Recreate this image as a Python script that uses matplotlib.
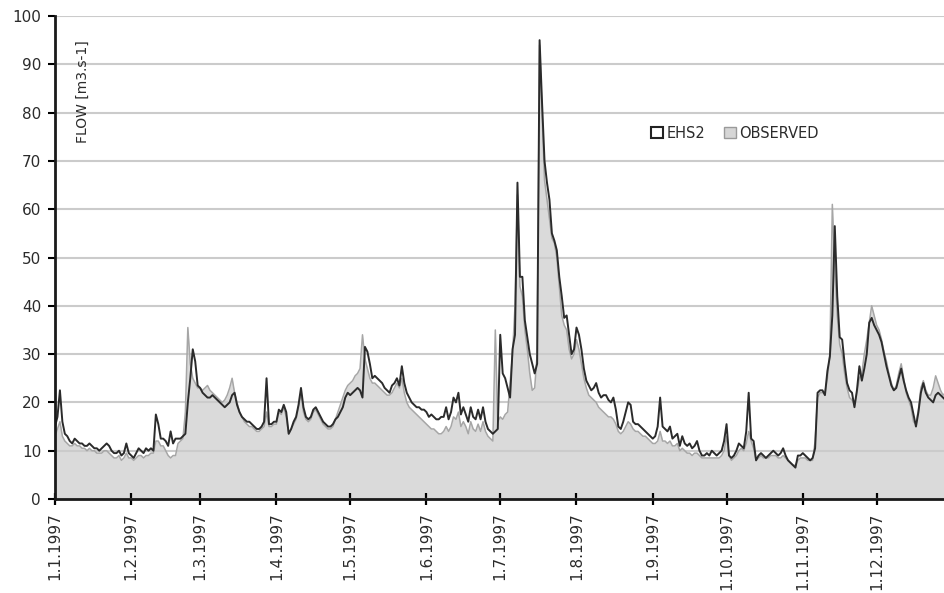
import numpy as np
import matplotlib
matplotlib.use("Agg")
import matplotlib.pyplot as plt
from matplotlib.patches import Patch

# Daily flow [m3.s-1] for 1997, modelled (EHS2) and observed, one list per month
EHS2_JAN = [15, 17, 22.5, 16, 13.5, 13, 12, 11.5, 12.5, 12, 11.5, 11.5, 11, 11, 11.5, 11,
            10.5, 10.5, 10, 10.5, 11, 11.5, 11, 10, 9.5, 9.5, 10, 9, 9.5, 11.5, 9.5]
EHS2_FEB = [9, 8.5, 9.5, 10.5, 10, 9.5, 10.5, 10, 10.5, 10, 17.5, 15.5, 12.5, 12.5, 12, 11,
            14, 11.5, 12.5, 12.5, 12.5, 13, 13.5, 20, 25, 31, 28.5, 23.5]
EHS2_MAR = [23, 22, 21.5, 21, 21, 21.5, 21, 20.5, 20, 19.5, 19, 19.5, 20, 21.5, 22, 19.5,
            18, 17, 16.5, 16, 16, 15.5, 15, 14.5, 14.5, 15, 16, 25, 15.5, 15.5, 16]
EHS2_APR = [16, 18.5, 18, 19.5, 18, 13.5, 14.5, 16, 17, 19.5, 23, 19, 17, 16.5, 17, 18.5,
            19, 18, 17, 16, 15.5, 15, 15, 15.5, 16.5, 17, 18, 19, 21, 22]
EHS2_MAY = [21.5, 22, 22.5, 23, 22.5, 21, 31.5, 30.5, 28, 25, 25.5, 25, 24.5, 24, 23, 22.5,
            22, 23.5, 24, 25, 23.5, 27.5, 24, 22, 21, 20, 19.5, 19, 19, 18.5, 18.5]
EHS2_JUN = [18, 17, 17.5, 17, 16.5, 16.5, 17, 17, 19, 16.5, 18, 21, 20, 22, 17.5, 19,
            17.5, 16, 19, 17, 16.5, 18.5, 16.5, 19, 16, 14.5, 14, 13.5, 14, 14.5]
EHS2_JUL = [34, 26, 25, 23, 21, 31, 34, 65.5, 46, 46, 37, 33.5, 30, 28, 26, 28,
            95, 82, 70, 65.5, 62, 55, 53.5, 51.5, 46, 42, 37.5, 38, 34, 30, 31]
EHS2_AUG = [35.5, 34, 31, 27, 24.5, 23.5, 22.5, 23, 24, 22, 21, 21.5, 21.5, 20.5, 20, 21,
            18.5, 15, 14.5, 16, 18, 20, 19.5, 16, 15.5, 15.5, 15, 14.5, 14, 13.5, 13]
EHS2_SEP = [12.5, 13, 15, 21, 15, 14.5, 14, 15, 12.5, 13, 13.5, 11, 13, 11.5, 11, 11.5,
            10.5, 11, 12, 10, 9, 9, 9.5, 9, 10, 9.5, 9, 9.5, 10, 12]
EHS2_OCT = [15.5, 9, 8.5, 9, 10, 11.5, 11, 10.5, 14, 22, 12.5, 12, 8, 9, 9.5, 9,
            8.5, 9, 9.5, 10, 9.5, 9, 9.5, 10.5, 9, 8, 7.5, 7, 6.5, 9, 9]
EHS2_NOV = [9.5, 9, 8.5, 8, 8.5, 10.5, 22, 22.5, 22.5, 21.5, 26.5, 29.5, 38, 56.5, 42, 33.5,
            33, 28, 24, 22.5, 22, 19, 22.5, 27.5, 24.5, 27, 30, 36.5, 37.5, 36]
EHS2_DEC = [35, 34, 32.5, 30, 27.5, 25.5, 23.5, 22.5, 23, 25, 27, 24.5, 22.5, 21, 20, 17.5,
            15, 18, 22, 24, 22, 21, 20.5, 20, 21.5, 22, 21.5, 21, 20.5, 20, 20]

OBS_JAN = [13, 14.5, 16, 13, 12, 11.5, 11, 11, 11.5, 11, 11, 10.5, 10.5, 10, 10.5, 10,
           10, 9.5, 9.5, 9.5, 10, 10, 9.5, 9, 8.5, 8.5, 9, 8, 8.5, 9.5, 8.5]
OBS_FEB = [8.5, 8, 8.5, 9, 9, 8.5, 9, 9, 9.5, 9.5, 12, 12, 11, 11, 10, 9,
           8.5, 9, 9, 11.5, 12, 12.5, 18, 35.5, 28, 25, 24, 23]
OBS_MAR = [23, 22.5, 23, 23.5, 22.5, 22, 21.5, 21, 20.5, 20, 20.5, 21.5, 23, 25, 22, 20,
           18, 17, 16, 15.5, 15, 15, 14.5, 14, 14, 14.5, 15, 18, 15, 15, 15.5]
OBS_APR = [15.5, 18, 17.5, 19, 17, 13.5, 14.5, 15.5, 16.5, 19, 22, 18, 16.5, 16, 16.5, 18,
           18.5, 17.5, 16.5, 15.5, 15, 14.5, 14.5, 15, 16.5, 18, 19.5, 21, 22.5, 23.5]
OBS_MAY = [24, 24.5, 25.5, 26, 27, 34, 29, 27, 25, 24, 24, 23.5, 23, 22.5, 22, 21.5,
           21.5, 22, 23, 24, 23, 25, 22, 20, 19, 18.5, 18, 17.5, 17, 16.5, 16]
OBS_JUN = [15.5, 15, 14.5, 14.5, 14, 13.5, 13.5, 14, 15, 14, 15, 17, 16.5, 18, 15, 16,
           15, 13.5, 16, 14.5, 14, 15.5, 14, 16, 14, 13, 12.5, 12, 35, 16]
OBS_JUL = [17, 16.5, 17.5, 18, 24, 30, 40, 63, 44, 42, 35, 31, 26, 22.5, 23, 30,
           94, 80, 66, 62, 58, 54, 53, 50, 44, 38, 36, 35, 31, 29, 30]
OBS_AUG = [33, 31, 28, 25, 23, 21.5, 21, 20.5, 20, 19, 18.5, 18, 17.5, 17, 17, 16.5,
           15.5, 14, 13.5, 14, 15, 16, 15.5, 14.5, 14, 14, 13.5, 13, 13, 12.5, 12]
OBS_SEP = [11.5, 11.5, 12, 14, 12, 12, 11.5, 12, 11, 11, 11.5, 10, 10.5, 10, 9.5, 9.5,
           9, 9.5, 9.5, 9, 8.5, 8.5, 8.5, 8.5, 8.5, 8.5, 8.5, 8.5, 9, 10]
OBS_OCT = [13, 9, 8, 8.5, 9, 10, 10.5, 10, 11.5, 14, 12, 10.5, 8, 8.5, 9, 8.5,
           8.5, 8.5, 9, 9, 9, 8.5, 8.5, 9, 8.5, 8, 7.5, 7, 7, 8, 8.5]
OBS_NOV = [8.5, 8.5, 8, 8, 8, 12, 21, 22, 22, 22, 25, 30, 61, 48, 38, 32,
           30, 26, 23, 21, 20.5, 19.5, 22, 25, 26, 30, 33, 36.5, 40, 38]
OBS_DEC = [36, 35, 33, 30.5, 28.5, 26, 24, 22.5, 23.5, 26, 28, 25, 22, 20.5, 19, 16,
           15.5, 18.5, 23, 24.5, 22.5, 21.5, 21.5, 23, 25.5, 24, 22.5, 21.5, 22, 22, 21.5]

MONTH_LABELS = ["1.1.1997", "1.2.1997", "1.3.1997", "1.4.1997", "1.5.1997", "1.6.1997",
                "1.7.1997", "1.8.1997", "1.9.1997", "1.10.1997", "1.11.1997", "1.12.1997"]
Y_TICKS = [0, 10, 20, 30, 40, 50, 60, 70, 80, 90, 100]

ehs2 = np.array(EHS2_JAN + EHS2_FEB + EHS2_MAR + EHS2_APR + EHS2_MAY + EHS2_JUN +
                EHS2_JUL + EHS2_AUG + EHS2_SEP + EHS2_OCT + EHS2_NOV + EHS2_DEC, dtype=float)
observed = np.array(OBS_JAN + OBS_FEB + OBS_MAR + OBS_APR + OBS_MAY + OBS_JUN +
                    OBS_JUL + OBS_AUG + OBS_SEP + OBS_OCT + OBS_NOV + OBS_DEC, dtype=float)

months = [EHS2_JAN, EHS2_FEB, EHS2_MAR, EHS2_APR, EHS2_MAY, EHS2_JUN,
          EHS2_JUL, EHS2_AUG, EHS2_SEP, EHS2_OCT, EHS2_NOV, EHS2_DEC]
month_starts = np.concatenate([[0], np.cumsum([len(m) for m in months])[:-1]])
days = np.arange(len(ehs2))

plt.rcParams["font.family"] = ["DejaVu Sans"]

fig = plt.figure(figsize=(9.45, 5.93), dpi=100)
fig.patch.set_facecolor("white")
ax = fig.add_axes([55 / 945, 94 / 593, 895.4 / 945, 483 / 593])

ax.fill_between(days, 0, observed, color="#dadada", lw=0, zorder=1)
ax.plot(days, observed, color="#a6a6a6", lw=1.1, zorder=3)
ax.plot(days, ehs2, color="#2b2b2b", lw=1.4, zorder=4)

ax.set_xlim(0, len(ehs2) - 1)
ax.set_ylim(0, 100)
ax.set_yticks(Y_TICKS)
ax.set_xticks(month_starts)
ax.set_xticklabels(MONTH_LABELS, rotation=90, fontsize=11, color="#2b2b2b")
ax.tick_params(axis="y", labelsize=11, labelcolor="#2b2b2b", direction="out",
               length=5, width=1.5, pad=5)
ax.tick_params(axis="x", direction="inout", length=9, width=1.6, pad=5)
ax.yaxis.grid(True, color="#cbcbcb", lw=1.5, zorder=2)
ax.set_axisbelow(False)
for s in ("top", "right"):
    ax.spines[s].set_visible(False)
for s in ("left", "bottom"):
    ax.spines[s].set_linewidth(2)
    ax.spines[s].set_color("#1a1a1a")
    ax.spines[s].set_zorder(5)

fig.text(83 / 945, 1 - 92 / 593, "FLOW [m3.s-1]", rotation=90, ha="center", va="center",
         fontsize=10, color="#2b2b2b")

handles = [Patch(facecolor="white", edgecolor="#222222", lw=1.5),
           Patch(facecolor="#d6d6d6", edgecolor="#9a9a9a", lw=1.0)]
fig.legend(handles, ["EHS2", "OBSERVED"], loc="center left",
           bbox_to_anchor=(638 / 945, 1 - 133 / 593), ncol=2, frameon=False,
           fontsize=10.5, handlelength=0.8, handleheight=0.8, handletextpad=0.25,
           columnspacing=1.3, labelcolor="#2b2b2b")

fig.savefig("out.png", dpi=100)
